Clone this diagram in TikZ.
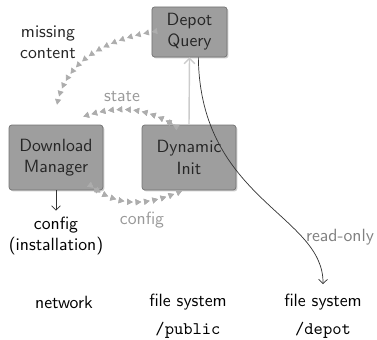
\documentclass[tikz,border=0pt]{standalone}
\usetikzlibrary{arrows.meta,decorations.markings,shadows}
\colorlet{boxfill}{black!38}
\colorlet{flowgray}{black!32}
\colorlet{labelgray}{black!40}
\begin{document}
\begin{tikzpicture}[x=0.565pt,y=-0.565pt,font=\sffamily,
    box/.style={draw=black!55,fill=boxfill,rounded corners=1.5pt,align=center,text=black!85,
      minimum width=53pt,minimum height=36.7pt,inner sep=2pt,
      drop shadow={shadow xshift=0.8pt,shadow yshift=-0.8pt,opacity=0.4}},
    flow/.style={color=flowgray,postaction={decorate},decoration={markings,
      mark=between positions 0 and 1 step 4.8pt with {\arrow{Triangle[length=3.2pt,width=3.4pt]}}}},
    flowback/.style={flow,decoration={markings,
      mark=at position 0 with {\arrowreversed{Triangle[length=3.2pt,width=3.4pt]}}}},
    note/.style={text=labelgray,align=center}]
  \useasboundingbox (0,0) rectangle (377,340);
  % BOXES
  \node[box,minimum width=42.4pt,minimum height=28.3pt] (dq) at (189.5,32) {Depot\\Query};
  \node[box] (dm) at (56,157.5) {Download\\Manager};
  \node[box] (di) at (189,157.5) {Dynamic\\Init};
  % TEXTS BELOW
  \node[align=center] (cfg) at (56,236) {config\\(installation)};
  \node (net) at (64,302) {network};
  \node (fspub) at (188,302) {file system};
  \node (pub) at (188,330) {\ttfamily /public};
  \node (fsdep) at (323,302) {file system};
  \node (dep) at (323,330) {\ttfamily /depot};
  % GRAY FLOWS
  \path[flow] (dq.west) to[out=190,in=85] ([yshift=6.8pt]dm.north);
  \path[flow] ([xshift=-9pt]di.north) to[out=149,in=19] ([xshift=-13pt,yshift=4pt]dm.north east);
  \path[flowback] ([xshift=-9pt]di.north) to[out=149,in=19] ([xshift=-13pt,yshift=4pt]dm.north east);
  \path[flow] ([xshift=-5.5pt,yshift=1.5pt]dm.south east) to[out=-37,in=205] ([yshift=1.5pt]di.south);
  \path[flowback] ([xshift=-5.5pt,yshift=1.5pt]dm.south east) to[out=-37,in=205] ([yshift=1.5pt]di.south);
  \draw[black!20,line width=0.8pt,-{Straight Barb[length=3pt]}] (di.north) -- (dq.south);
  % LABELS
  \node[text=black!85,align=center] (mc) at (48,42) {missing\\content};
  \node[note] (st) at (122,97) {state};
  \node[note] (cf) at (142,220) {config};
  \node[note,text=black!50] (ro) at (340,237) {read-only};
  % BLACK ARROWS
  \draw[-{Straight Barb[length=2.5pt]},black!80] (dm.south) -- (cfg.north);
  \draw[-{Straight Barb[length=2.5pt]},black!80] ([xshift=5pt]dq.south) .. controls (200,200) and (324,215) .. ([yshift=2pt]fsdep.north);
\end{tikzpicture}
\end{document}
